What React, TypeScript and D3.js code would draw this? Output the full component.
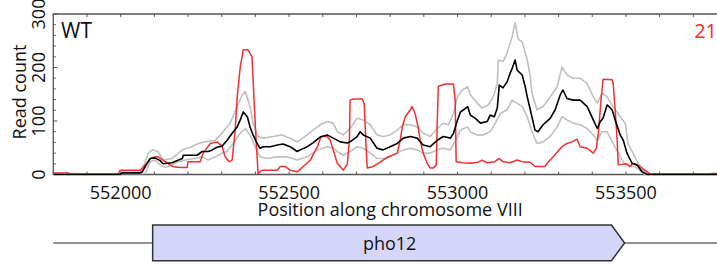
import React from "react";
import * as d3 from "d3";

// Genomic position, read count
const redSeries: [number, number][] = [
  [551800, 3], [551844, 3], [551850, 1], [551993, 1], [551998, 8], [552058, 8], [552073, 18],
  [552088, 30], [552102, 33], [552111, 33], [552132, 24], [552153, 15], [552177, 13], [552197, 13],
  [552200, 24], [552236, 24], [552245, 40], [552266, 58], [552286, 61], [552301, 53], [552310, 33],
  [552322, 24], [552331, 27], [552340, 83], [552346, 145], [552355, 201], [552364, 233], [552378, 233],
  [552390, 220], [552396, 139], [552402, 64], [552408, 2], [552420, 8], [552465, 8], [552474, 15],
  [552488, 15], [552503, 8], [552524, 5], [552542, 15], [552563, 27], [552584, 52], [552595, 71],
  [552613, 71], [552622, 64], [552631, 46], [552643, 21], [552661, 8], [552673, 20], [552679, 64],
  [552681, 139], [552690, 141], [552717, 141], [552723, 132], [552729, 46], [552732, 12], [552750, 15],
  [552765, 21], [552779, 27], [552794, 33], [552821, 40], [552830, 64], [552836, 89], [552845, 108],
  [552860, 121], [552865, 127], [552874, 114], [552883, 89], [552889, 64], [552898, 40], [552910, 21],
  [552919, 12], [552928, 12], [552937, 18], [552940, 102], [552943, 165], [552964, 169], [552988, 169],
  [552993, 139], [552996, 24], [553014, 22], [553038, 21], [553061, 23], [553073, 27], [553088, 22],
  [553111, 24], [553123, 30], [553135, 24], [553156, 22], [553177, 27], [553192, 24], [553215, 23],
  [553230, 15], [553260, 15], [553266, 21], [553284, 33], [553310, 52], [553325, 58], [553340, 61],
  [553355, 66], [553364, 52], [553385, 49], [553403, 40], [553412, 49], [553418, 77], [553426, 139],
  [553432, 178], [553459, 177], [553462, 170], [553468, 121], [553474, 64], [553477, 18], [553503, 20],
  [553512, 15], [553521, 21], [553542, 15], [553563, 5], [553572, 1], [553750, 1], [553756, 2],
  [553800, 2],
];

const meanSeries: [number, number][] = [
  [551800, 0], [551998, 0], [552004, 3], [552058, 3], [552064, 5], [552076, 18], [552088, 30],
  [552102, 31], [552117, 26], [552126, 20], [552153, 22], [552168, 26], [552183, 30], [552186, 36],
  [552227, 36], [552242, 43], [552260, 43], [552272, 46], [552286, 51], [552301, 53], [552316, 64],
  [552331, 77], [552346, 89], [552355, 102], [552364, 117], [552376, 108], [552384, 89], [552393, 74],
  [552405, 58], [552414, 49], [552423, 52], [552444, 52], [552465, 55], [552482, 57], [552503, 52],
  [552524, 43], [552533, 46], [552554, 52], [552571, 59], [552592, 70], [552613, 74], [552631, 68],
  [552652, 61], [552673, 59], [552681, 61], [552702, 71], [552711, 80], [552720, 74], [552741, 68],
  [552761, 49], [552779, 46], [552800, 52], [552821, 58], [552839, 68], [552860, 71], [552880, 68],
  [552898, 55], [552919, 52], [552940, 64], [552958, 71], [552979, 68], [552988, 77], [553000, 102],
  [553009, 117], [553018, 121], [553030, 127], [553038, 111], [553053, 105], [553068, 96], [553088, 99],
  [553097, 111], [553109, 108], [553118, 124], [553124, 167], [553135, 162], [553147, 173], [553156, 189],
  [553162, 198], [553171, 214], [553177, 195], [553192, 186], [553201, 164], [553207, 145], [553216, 121],
  [553230, 83], [553239, 80], [553254, 93], [553275, 105], [553290, 121], [553305, 149], [553313, 158],
  [553325, 142], [553343, 139], [553364, 139], [553385, 127], [553403, 102], [553415, 86], [553424, 99],
  [553432, 105], [553444, 130], [553459, 121], [553468, 102], [553483, 74], [553492, 64], [553503, 40],
  [553518, 21], [553533, 18], [553548, 5], [553563, 0], [553800, 0],
];

const upperSeries: [number, number][] = [
  [551800, 0], [551998, 0], [552004, 4], [552058, 4], [552064, 8], [552082, 40], [552094, 46],
  [552111, 43], [552126, 27], [552153, 30], [552171, 40], [552186, 47], [552212, 52], [552230, 58],
  [552251, 61], [552281, 64], [552296, 74], [552325, 96], [552346, 127], [552361, 149], [552370, 155],
  [552384, 127], [552393, 96], [552408, 71], [552423, 68], [552453, 71], [552479, 74], [552503, 68],
  [552524, 61], [552554, 74], [552571, 83], [552592, 93], [552613, 99], [552631, 96], [552643, 80],
  [552661, 74], [552681, 86], [552702, 105], [552720, 102], [552741, 93], [552761, 74], [552779, 71],
  [552800, 74], [552821, 83], [552839, 93], [552860, 93], [552880, 89], [552898, 77], [552919, 71],
  [552940, 86], [552958, 96], [552973, 93], [552988, 114], [553000, 145], [553014, 158], [553030, 164],
  [553038, 149], [553059, 133], [553073, 124], [553091, 130], [553106, 145], [553118, 170], [553121, 214],
  [553135, 211], [553147, 227], [553162, 258], [553171, 284], [553180, 253], [553192, 248], [553207, 214],
  [553216, 183], [553221, 152], [553236, 121], [553254, 127], [553275, 145], [553296, 164], [553310, 201],
  [553325, 186], [553343, 180], [553364, 180], [553385, 170], [553403, 145], [553415, 133], [553429, 152],
  [553444, 145], [553462, 127], [553483, 108], [553498, 96], [553506, 58], [553521, 40], [553536, 21],
  [553551, 8], [553566, 0], [553800, 0],
];

const lowerSeries: [number, number][] = [
  [551800, 0], [551998, 0], [552004, 2], [552058, 2], [552073, 2], [552088, 24], [552102, 27],
  [552117, 18], [552132, 13], [552153, 18], [552171, 24], [552192, 27], [552221, 30], [552242, 33],
  [552260, 27], [552281, 33], [552301, 40], [552316, 43], [552334, 58], [552355, 77], [552370, 86],
  [552384, 74], [552399, 52], [552414, 33], [552435, 30], [552465, 33], [552494, 33], [552524, 27],
  [552554, 33], [552584, 46], [552613, 52], [552631, 49], [552643, 43], [552661, 36], [552681, 43],
  [552702, 52], [552720, 49], [552741, 40], [552761, 30], [552779, 30], [552800, 33], [552821, 40],
  [552839, 46], [552860, 49], [552880, 46], [552898, 40], [552919, 40], [552940, 46], [552958, 49],
  [552979, 46], [552994, 64], [553009, 83], [553030, 89], [553038, 80], [553059, 74], [553076, 74],
  [553097, 80], [553112, 96], [553127, 114], [553147, 121], [553162, 139], [553177, 133], [553192, 127],
  [553207, 108], [553221, 80], [553236, 58], [553254, 61], [553275, 71], [553296, 89], [553310, 108],
  [553325, 102], [553343, 96], [553364, 93], [553385, 86], [553403, 74], [553415, 64], [553429, 80],
  [553444, 80], [553462, 58], [553483, 33], [553498, 18], [553512, 15], [553527, 15], [553542, 7],
  [553557, 0], [553800, 0],
];

const xMajorTicks = [552000, 552500, 553000, 553500];
const yMajorTicks = [0, 100, 200, 300];
const geneName = "pho12";
const geneStart = 552095;
const geneShoulder = 553457;
const geneEnd = 553496;
const sampleLabel = "WT";
const cornerLabel = "21";
const xTitle = "Position along chromosome VIII";
const yTitle = "Read count";

const FONT = "'Open Sans', sans-serif";

export default function App() {
  const W = 717, H = 266;
  const x = d3.scaleLinear().domain([551800, 553800]).range([53.3, 727]);
  const y = d3.scaleLinear().domain([0, 300]).range([174.5, 14]);
  const line = d3.line<[number, number]>().x((d) => x(d[0])).y((d) => y(d[1]));
  const xMinor = d3.range(551800, 553801, 100);
  const yMinor = d3.range(0, 301, 20);
  const axisColor = "#555";
  const gy = 243, gTop = 225, gBot = 260.7;

  return (
    <svg width={W} height={H} style={{ position: "absolute", left: 0, top: 0, background: "#fff" }}>
      <defs>
        <clipPath id="plotclip">
          <rect x={x(551800)} y={0} width={x(553800) - x(551800)} height={y(0) + 1} />
        </clipPath>
      </defs>
      {/* frame */}
      <line x1={x(551800)} x2={x(553800)} y1={y(300)} y2={y(300)} stroke={axisColor} strokeWidth={1.3} />
      <line x1={x(551800)} x2={x(553800)} y1={y(0)} y2={y(0)} stroke={axisColor} strokeWidth={1.3} />
      <line x1={x(551800)} x2={x(551800)} y1={y(0)} y2={y(300)} stroke={axisColor} strokeWidth={1.3} />
      {/* x ticks */}
      {xMinor.map((t) => (
        <g key={"xt" + t}>
          <line x1={x(t)} x2={x(t)} y1={y(0)} y2={y(0) - 3} stroke={axisColor} strokeWidth={1} />
          <line x1={x(t)} x2={x(t)} y1={y(300)} y2={y(300) + 3} stroke={axisColor} strokeWidth={1} />
        </g>
      ))}
      {/* y ticks */}
      {yMinor.map((t) => (
        <line key={"yt" + t} x1={x(551800)} x2={x(551800) + (t % 100 === 0 ? 4 : 2.5)} y1={y(t)} y2={y(t)} stroke={axisColor} strokeWidth={1} />
      ))}
      {/* data */}
      <g clipPath="url(#plotclip)" fill="none" strokeLinejoin="round">
        <path d={line(upperSeries) || ""} stroke="#c0c0c0" strokeWidth={1.6} />
        <path d={line(lowerSeries) || ""} stroke="#c0c0c0" strokeWidth={1.6} />
        <path d={line(redSeries) || ""} stroke="#f03030" strokeWidth={1.5} />
        <path d={line(meanSeries) || ""} stroke="#000" strokeWidth={1.6} />
      </g>
      {/* x tick labels */}
      {xMajorTicks.map((t) => (
        <text key={"xl" + t} x={x(t)} y={198.5} textAnchor="middle" fontFamily={FONT} fontSize={18} fill="#111">
          {t}
        </text>
      ))}
      {/* y tick labels rotated */}
      {yMajorTicks.map((t) => (
        <text key={"yl" + t} transform={`translate(45,${y(t)}) rotate(-90)`} textAnchor="middle" fontFamily={FONT} fontSize={18} fill="#111">
          {t}
        </text>
      ))}
      <text x={x(552800)} y={216} textAnchor="middle" fontFamily={FONT} fontSize={18} fill="#111">
        {xTitle}
      </text>
      <text transform={`translate(25.5,92) rotate(-90)`} textAnchor="middle" fontFamily={FONT} fontSize={18} fill="#111">
        {yTitle}
      </text>
      <text x={61} y={37.5} fontFamily={FONT} fontSize={21} fill="#111">
        {sampleLabel}
      </text>
      <text x={717} y={37.5} textAnchor="end" fontFamily={FONT} fontSize={20} fill="#f03030">
        {cornerLabel}
      </text>
      {/* gene track */}
      <line x1={x(551800)} x2={W} y1={gy} y2={gy} stroke="#222" strokeWidth={1.2} />
      <path
        d={`M${x(geneStart)},${gTop}L${x(geneShoulder)},${gTop}L${x(geneEnd)},${gy}L${x(geneShoulder)},${gBot}L${x(geneStart)},${gBot}Z`}
        fill="#d6d6fb"
        stroke="#333"
        strokeWidth={1.5}
      />
      <text x={(x(geneStart) + x(geneEnd)) / 2 + 1} y={249.5} textAnchor="middle" fontFamily={FONT} fontSize={18} fill="#111">
        {geneName}
      </text>
    </svg>
  );
}
